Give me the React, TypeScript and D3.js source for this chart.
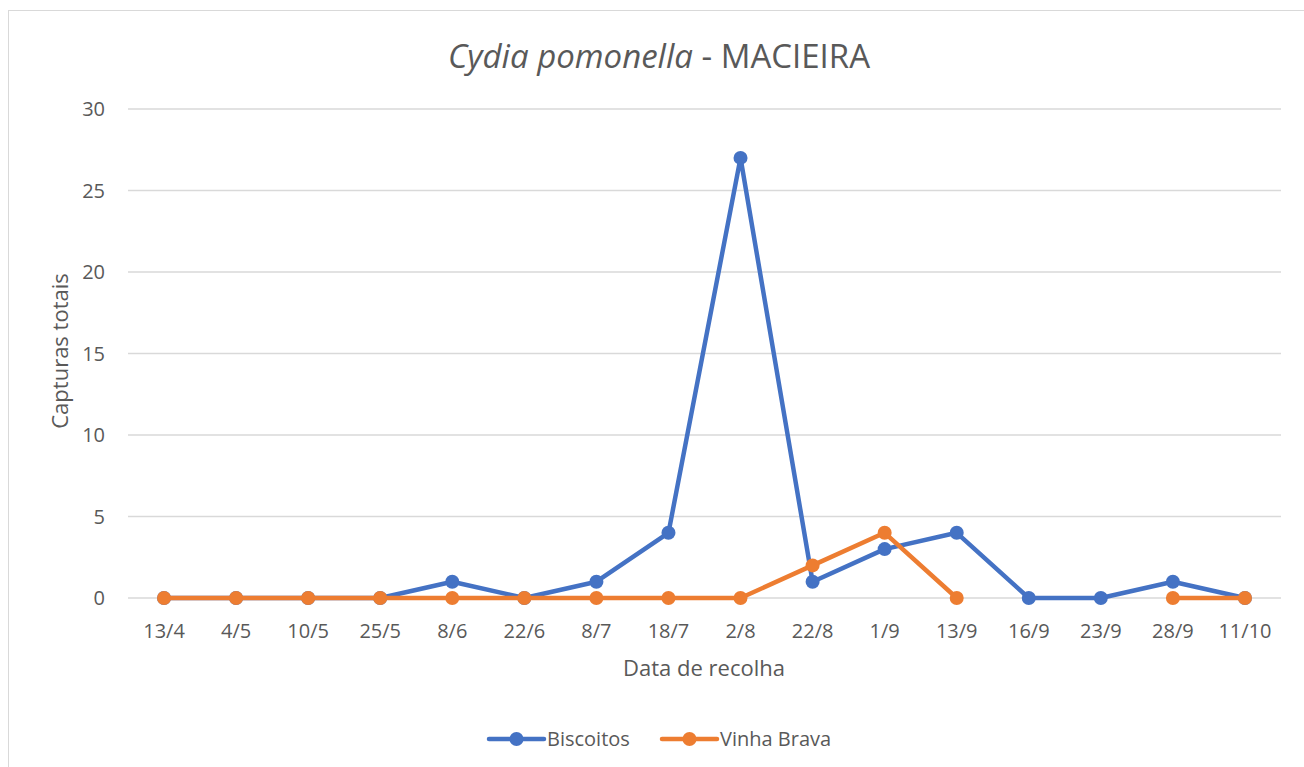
import React from "react";
import * as d3 from "d3";

const categories = ["13/4", "4/5", "10/5", "25/5", "8/6", "22/6", "8/7", "18/7", "2/8", "22/8", "1/9", "13/9", "16/9", "23/9", "28/9", "11/10"];
const biscoitos: (number | null)[] = [0, 0, 0, 0, 1, 0, 1, 4, 27, 1, 3, 4, 0, 0, 1, 0];
const vinhaBrava: (number | null)[] = [0, 0, 0, 0, 0, 0, 0, 0, 0, 2, 4, 0, null, null, 0, 0];
const yTicks = [0, 5, 10, 15, 20, 25, 30];
const seriesNames = ["Biscoitos", "Vinha Brava"];

const W = 1304, H = 767;
const FONT = "'Open Sans', sans-serif";
const TXT = "#595959";
const COLORS = ["#4472C4", "#ED7D31"];

export default function App() {
  const x = d3.scaleBand<string>().domain(categories).range([128, 1281]);
  const y = d3.scaleLinear().domain([0, 30]).range([598, 109]);
  const cx = (c: string) => (x(c) as number) + x.bandwidth() / 2;
  const line = d3
    .line<number | null>()
    .defined((d) => d !== null)
    .x((_, i) => cx(categories[i]))
    .y((d) => y(d as number));
  const series = [biscoitos, vinhaBrava];

  return (
    <svg width={W} height={H} style={{ position: "absolute", left: 0, top: 0, background: "#fff" }}>
      <rect x={8.5} y={10.5} width={1300} height={770} fill="#fff" stroke="#d9d9d9" strokeWidth={1} />
      <text x={659} y={68} textAnchor="middle" fontFamily={FONT} fontSize={33} fill={TXT}>
        <tspan fontStyle="italic">Cydia pomonella</tspan>
        <tspan> - MACIEIRA</tspan>
      </text>
      {yTicks.map((t) => (
        <g key={t}>
          <line x1={128} x2={1281} y1={y(t)} y2={y(t)} stroke="#d9d9d9" strokeWidth={1.3} />
          <text x={105} y={y(t)} dy="0.35em" textAnchor="end" fontFamily={FONT} fontSize={20} fill={TXT}>
            {t}
          </text>
        </g>
      ))}
      {categories.map((c) => (
        <text key={c} x={cx(c)} y={638} textAnchor="middle" fontFamily={FONT} fontSize={20} fill={TXT}>
          {c}
        </text>
      ))}
      <text x={704} y={676} textAnchor="middle" fontFamily={FONT} fontSize={22} fill={TXT}>
        Data de recolha
      </text>
      <text
        transform={`translate(68,${351}) rotate(-90)`}
        textAnchor="middle"
        fontFamily={FONT}
        fontSize={22}
        fill={TXT}
      >
        Capturas totais
      </text>
      {series.map((s, si) => (
        <g key={si}>
          <path d={line(s) || ""} fill="none" stroke={COLORS[si]} strokeWidth={4.5} strokeLinejoin="round" strokeLinecap="round" />
          {s.map((v, i) =>
            v === null ? null : <circle key={i} cx={cx(categories[i])} cy={y(v)} r={7} fill={COLORS[si]} />
          )}
        </g>
      ))}
      {seriesNames.map((n, i) => {
        const lx = i === 0 ? 489 : 662;
        return (
          <g key={n}>
            <line x1={lx} x2={lx + 55} y1={739} y2={739} stroke={COLORS[i]} strokeWidth={4.5} strokeLinecap="round" />
            <circle cx={lx + 27.5} cy={739} r={7} fill={COLORS[i]} />
            <text x={lx + 58} y={739} dy="0.35em" fontFamily={FONT} fontSize={20} fill={TXT}>
              {n}
            </text>
          </g>
        );
      })}
    </svg>
  );
}
